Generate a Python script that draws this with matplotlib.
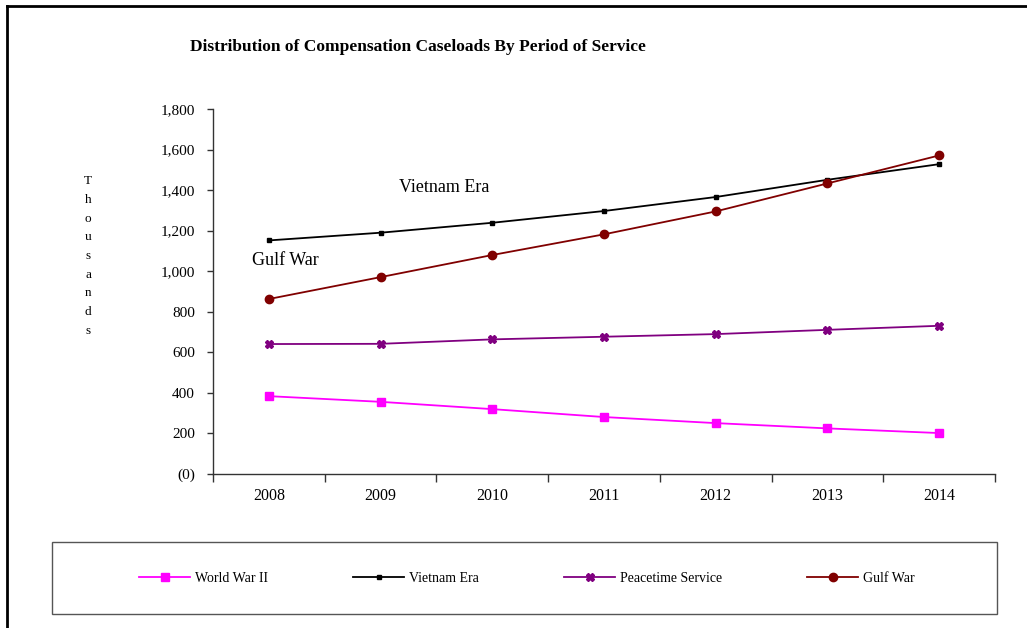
import matplotlib.pyplot as plt
from matplotlib.lines import Line2D
from matplotlib.patches import Rectangle
from matplotlib.ticker import FuncFormatter

plt.rcParams['font.family'] = ['Liberation Serif', 'DejaVu Serif']

years = ['2008', '2009', '2010', '2011', '2012', '2013', '2014']
world_war_ii = [384, 356, 320, 281, 251, 225, 202]
vietnam_era = [1152, 1190, 1239, 1297, 1366, 1451, 1528]
peacetime = [641, 642, 664, 677, 690, 711, 731]
gulf_war = [863, 971, 1080, 1182, 1295, 1433, 1571]

fig = plt.figure(figsize=(10.27, 6.28), dpi=100)
ax = fig.add_axes([0.2074, 0.2452, 0.7614, 0.5812])

x = [i + 0.5 for i in range(len(years))]
ax.plot(x, world_war_ii, color='#FF00FF', lw=1.3, marker='s', ms=6,
        label='World War II')
ax.plot(x, vietnam_era, color='black', lw=1.3, marker='s', ms=3,
        label='Vietnam Era')
ax.plot(x, peacetime, color='#800080', lw=1.3, marker='X', ms=6,
        label='Peacetime Service')
ax.plot(x, gulf_war, color='#800000', lw=1.3, marker='o', ms=6,
        label='Gulf War')

ax.set_xlim(0, len(years))
ax.set_ylim(0, 1800)
ax.set_yticks(range(0, 1801, 200))
ax.yaxis.set_major_formatter(
    FuncFormatter(lambda v, p: '(0)' if v == 0 else f'{int(v):,}'))

# boundaries get the tick marks, the year labels sit between them
ax.set_xticks(range(len(years) + 1))
ax.set_xticklabels([])
ax.set_xticks(x, minor=True)
ax.set_xticklabels(years, minor=True)
ax.tick_params(axis='x', which='major', length=6, width=1, color='#333333')
ax.tick_params(axis='x', which='minor', length=0, pad=10, labelsize=11.5)
ax.tick_params(axis='y', length=4, width=1, color='#333333', pad=9,
               labelsize=11)

for side in ['top', 'right']:
    ax.spines[side].set_visible(False)
for side in ['left', 'bottom']:
    ax.spines[side].set_color('#333333')
    ax.spines[side].set_linewidth(1)

ax.text(1.665, 1415, 'Vietnam Era', fontsize=13, va='center', ha='left')
ax.text(0.35, 1055, 'Gulf War', fontsize=13, va='center', ha='left')

fig.text(418 / 1027, 1 - 47 / 628,
         'Distribution of Compensation Caseloads By Period of Service',
         fontsize=12.5, fontweight='bold', ha='center', va='center')

fig.text(88 / 1027, 1 - 256 / 628, '\n'.join('Thousands'),
         fontsize=9.5, ha='center', va='center', linespacing=1.74)

# legend box under the plot
fig.add_artist(Rectangle((52 / 1027, 1 - 614 / 628), 945 / 1027, 72 / 628,
                         transform=fig.transFigure, fill=False,
                         edgecolor='#555555', lw=1))
fig.legend(loc='center', bbox_to_anchor=(527 / 1027, 1 - 578 / 628),
           ncol=4, frameon=False, fontsize=10, handlelength=3.7,
           handletextpad=0.35, columnspacing=6.1)

# page frame, cut off on the right and bottom
fig.add_artist(Line2D([7 / 1027, 7 / 1027], [0, 1 - 6 / 628],
                      transform=fig.transFigure, color='black', lw=2))
fig.add_artist(Line2D([7 / 1027, 1], [1 - 6 / 628, 1 - 6 / 628],
                      transform=fig.transFigure, color='black', lw=2))

fig.savefig('out.png', dpi=100)
